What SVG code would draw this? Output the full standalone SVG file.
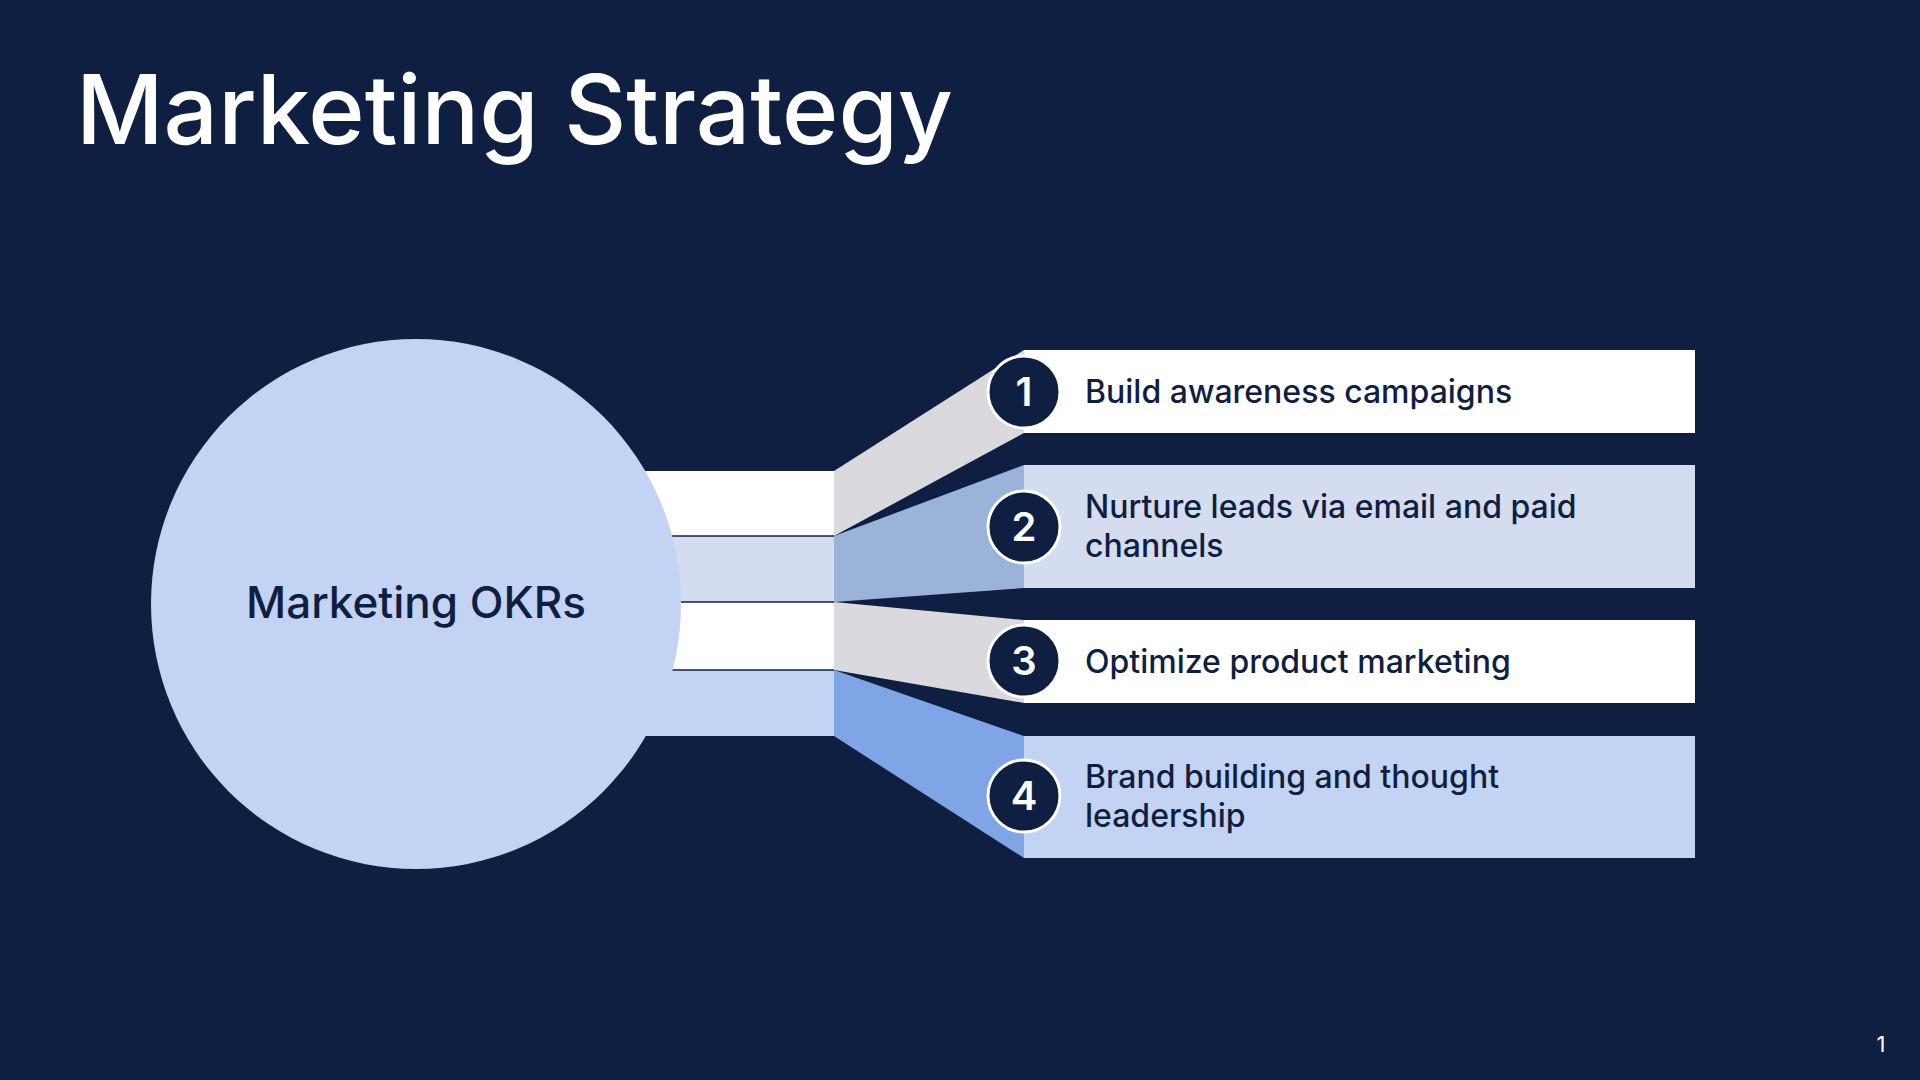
<svg xmlns="http://www.w3.org/2000/svg" width="1920" height="1080" viewBox="0 0 1920 1080">
<style>
.t{font-family:Inter,"Liberation Sans",sans-serif;}
.lbl{font-size:32px;font-weight:500;fill:#0f1f41;}
.num{font-size:40px;font-weight:600;fill:#fff;text-anchor:middle;}
.badge{fill:#0f1f41;stroke:#fff;stroke-width:3;}
</style>
<rect width="1920" height="1080" fill="#0f1f41"/>
<text class="t" x="76" y="144" font-size="96" font-weight="500" fill="#fff">Marketing Strategy</text>
<g id="connectors">
<rect x="600" y="471" width="234" height="65" fill="#ffffff"/>
<rect x="600" y="536" width="234" height="66" fill="#d4dcef"/>
<rect x="600" y="602" width="234" height="68" fill="#ffffff"/>
<rect x="600" y="670" width="234" height="66" fill="#c3d3f3"/>
<polygon points="834,471 1024,350 1024,433 834,536" fill="#d9d9de"/>
<polygon points="834,536 1024,465 1024,588 834,602" fill="#9bb2d9"/>
<polygon points="834,602 1024,620 1024,703 834,670" fill="#d9d9de"/>
<polygon points="834,670 1024,736 1024,858 834,736" fill="#80a5e6"/>
<g stroke="#0f1f41" stroke-width="1.5">
<line x1="600" y1="536" x2="834" y2="536"/>
<line x1="600" y1="602" x2="834" y2="602"/>
<line x1="600" y1="670" x2="834" y2="670"/>
</g>
</g>
<g id="hub">
<circle cx="416" cy="604" r="265" fill="#c3d3f3"/>
<text class="t" x="416" y="618" font-size="44" font-weight="500" fill="#0f1f41" text-anchor="middle">Marketing OKRs</text>
</g>
<g id="item1">
<rect x="1024" y="350" width="671" height="83" fill="#ffffff"/>
<circle class="badge" cx="1024" cy="392" r="36"/>
<text class="t num" x="1024" y="406">1</text>
<text class="t lbl" x="1085" y="403">Build awareness campaigns</text>
</g>
<g id="item2">
<rect x="1024" y="465" width="671" height="123" fill="#d4dcef"/>
<circle class="badge" cx="1024" cy="527" r="36"/>
<text class="t num" x="1024" y="541">2</text>
<text class="t lbl" x="1085" y="518">Nurture leads via email and paid</text>
<text class="t lbl" x="1085" y="557">channels</text>
</g>
<g id="item3">
<rect x="1024" y="620" width="671" height="83" fill="#ffffff"/>
<circle class="badge" cx="1024" cy="661" r="36"/>
<text class="t num" x="1024" y="675">3</text>
<text class="t lbl" x="1085" y="673">Optimize product marketing</text>
</g>
<g id="item4">
<rect x="1024" y="736" width="671" height="122" fill="#c3d3f3"/>
<circle class="badge" cx="1024" cy="796" r="36"/>
<text class="t num" x="1024" y="810">4</text>
<text class="t lbl" x="1085" y="788">Brand building and thought</text>
<text class="t lbl" x="1085" y="827">leadership</text>
</g>
<text class="t" x="1881" y="1052" font-size="22" fill="#ffffff" text-anchor="middle">1</text>
</svg>
